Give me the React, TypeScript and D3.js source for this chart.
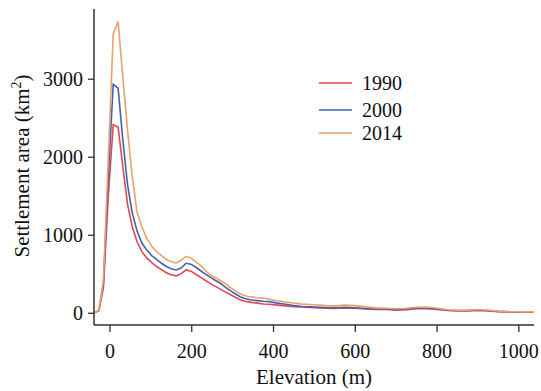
import * as d3 from 'd3'

const WIDTH = 541
const HEIGHT = 391
const MARGIN = {top: 9, right: 7, bottom: 66, left: 94}

// elevation (m) of each sample
const elevations = [
  -38, -27, -16, -4, 8, 20, 31, 43, 54, 66, 78, 90, 102, 114, 126, 138, 150, 162, 174, 186,
  198, 210, 222, 234, 246, 258, 270, 282, 294, 306, 318, 330, 345, 360, 375, 390, 410, 430,
  450, 470, 490, 510, 530, 550, 575, 600, 625, 650, 675, 700, 725, 750, 775, 800, 825, 850,
  875, 900, 925, 950, 975, 1000, 1020, 1037,
]

// settlement area (km²)
const area1990 = [
  5, 35, 330, 1500, 2420, 2385, 1900, 1400, 1120, 920, 790, 710, 650, 600, 560, 520, 495, 480, 505, 555,
  540, 500, 460, 420, 380, 345, 310, 275, 240, 205, 175, 155, 140, 130, 120, 115, 105, 95,
  85, 80, 75, 70, 65, 63, 68, 65, 55, 50, 48, 40, 45, 58, 60, 50, 35, 30,
  30, 35, 30, 22, 18, 16, 15, 15,
]
const area2000 = [
  5, 35, 380, 1750, 2935, 2885, 2250, 1650, 1300, 1060, 900, 810, 740, 690, 641, 600, 570, 555, 580, 641,
  630, 590, 545, 500, 460, 420, 385, 335, 290, 250, 213, 190, 170, 162, 155, 150, 130, 115,
  100, 88, 82, 78, 74, 72, 78, 72, 62, 58, 55, 48, 55, 68, 70, 58, 40, 35,
  35, 42, 35, 25, 20, 18, 17, 17,
]
const area2014 = [
  5, 40, 420, 2000, 3580, 3740, 3050, 2350, 1780, 1300, 1110, 960, 860, 790, 740, 690, 660, 645, 680, 730,
  710, 660, 610, 545, 490, 455, 420, 380, 330, 290, 250, 225, 210, 200, 195, 180, 160, 145,
  130, 118, 112, 105, 98, 95, 105, 98, 82, 70, 65, 58, 65, 78, 80, 65, 45, 40,
  40, 48, 40, 28, 22, 20, 18, 18,
]

const years = ['1990', '2000', '2014']
const colors = ['#e2474f', '#4063ab', '#e9a26c']
const xTicks = [0, 200, 400, 600, 800, 1000]
const yTicks = [0, 1000, 2000, 3000]

const SERIF = 'Times New Roman, Times, Liberation Serif, DejaVu Serif, serif'

export default function App() {
  const x = d3.scaleLinear().domain([-39, 1037]).range([MARGIN.left, WIDTH - MARGIN.right])
  const y = d3.scaleLinear().domain([-150, 3900]).range([HEIGHT - MARGIN.bottom, MARGIN.top])
  const x0 = x.range()[0]
  const x1 = x.range()[1]
  const yBase = y.range()[0]

  const series = [area1990, area2000, area2014]
  const line = d3
    .line<number>()
    .x((_, i) => x(elevations[i]))
    .y(d => y(d))

  const axisColor = '#333'

  return (
    <div style={{fontFamily: SERIF}}>
      <svg
        width={WIDTH}
        height={HEIGHT}
        fontFamily={SERIF}
        style={{position: 'absolute', left: 0, top: 0, background: '#fff'}}>
        {series.map((s, i) => (
          <path key={years[i]} d={line(s) ?? ''} fill="none" stroke={colors[i]} strokeWidth={1.6} />
        ))}

        {/* axes */}
        <line x1={x0} x2={x0} y1={MARGIN.top} y2={yBase} stroke={axisColor} strokeWidth={1.5} />
        <line x1={x0} x2={x1} y1={yBase} y2={yBase} stroke={axisColor} strokeWidth={1.5} />

        {yTicks.map(t => (
          <g key={t}>
            <line x1={x0 - 6} x2={x0} y1={y(t)} y2={y(t)} stroke={axisColor} strokeWidth={1.3} />
            <text x={x0 - 11} y={y(t)} textAnchor="end" dominantBaseline="central" fontSize={20} fill="#111">
              {t}
            </text>
          </g>
        ))}
        {xTicks.map(t => (
          <g key={t}>
            <line x1={x(t)} x2={x(t)} y1={yBase} y2={yBase + 7} stroke={axisColor} strokeWidth={1.3} />
            <text x={x(t)} y={yBase + 33} textAnchor="middle" fontSize={20} fill="#111">
              {t}
            </text>
          </g>
        ))}

        <text x={(x0 + x1) / 2} y={384} textAnchor="middle" fontSize={21} fill="#111">
          Elevation (m)
        </text>
        <text transform="translate(29,166) rotate(-90)" textAnchor="middle" fontSize={21} fill="#111">
          Settlement area (km<tspan fontSize={14} dy={-8}>2</tspan>
          <tspan dy={8}>)</tspan>
        </text>

        {/* legend */}
        {years.map((yr, i) => {
          const ly = [83, 110, 133][i]
          return (
            <g key={yr}>
              <line x1={319} x2={352} y1={ly} y2={ly} stroke={colors[i]} strokeWidth={1.6} />
              <text x={362} y={ly} dominantBaseline="central" fontSize={20} fill="#111">
                {yr}
              </text>
            </g>
          )
        })}
      </svg>
    </div>
  )
}
